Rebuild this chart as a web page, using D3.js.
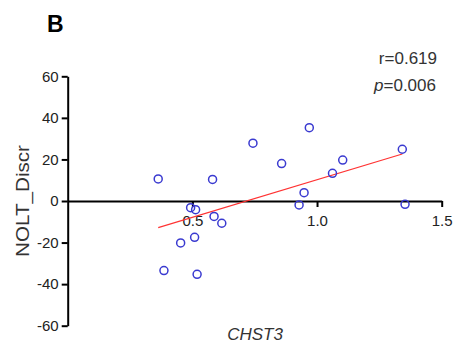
<!DOCTYPE html>
<html>
<head>
<meta charset="utf-8">
<script src="https://cdn.jsdelivr.net/npm/d3@7"></script>
<style>
  body { margin: 0; background: #fff; }
  svg { display: block; font-family: "Liberation Sans", Arial, sans-serif; }
  .axis path, .axis line { stroke: #000; stroke-width: 2; }
  .axis text { font-size: 15px; fill: #222; }
</style>
</head>
<body>
<svg width="454" height="345"></svg>
<script>
// CHST3 expression vs NOLT discrimination
const chst3 = [0.363, 0.386, 0.453, 0.493, 0.513, 0.509, 0.519, 0.581, 0.587, 0.618,
               0.743, 0.858, 0.928, 0.948, 0.969, 1.062, 1.103, 1.342, 1.353];
const noltDiscr = [10.6, -33.5, -20.2, -3.2, -4.2, -17.5, -35.3, 10.4, -7.4, -10.7,
                   27.8, 18.0, -1.9, 4.0, 35.3, 13.3, 19.7, 24.9, -1.6];
// regression line end points
const fitX = [0.363, 1.342];
const fitY = [-12.8, 22.6];
const xTicks = [0.5, 1.0, 1.5];
const yTicks = [-60, -40, -20, 0, 20, 40, 60];

const svg = d3.select('svg');

const x = d3.scaleLinear().domain([0, 1.5]).range([67.7, 441.7]);
const y = d3.scaleLinear().domain([-60, 60]).range([325.7, 76.3]);

// y axis (plain hyphen for minus, like the original)
svg.append('g')
    .attr('class', 'axis axis--y')
    .attr('transform', 'translate(' + x(0) + ',0)')
    .call(d3.axisLeft(y).tickValues(yTicks).tickSize(6).tickSizeOuter(0).tickPadding(3)
        .tickFormat(d => String(d)));

// x axis through zero
svg.append('g')
    .attr('class', 'axis axis--x')
    .attr('transform', 'translate(0,' + y(0) + ')')
    .call(d3.axisBottom(x).tickValues(xTicks).tickSize(6).tickSizeOuter(0).tickPadding(8)
        .tickFormat(d => d.toFixed(1)));

// fit line
svg.append('path')
    .datum(d3.zip(fitX, fitY))
    .attr('d', d3.line().x(d => x(d[0])).y(d => y(d[1])))
    .attr('stroke', '#ff3333')
    .attr('stroke-width', 1.2)
    .attr('fill', 'none');

// points
svg.append('g')
    .selectAll('circle')
    .data(d3.zip(chst3, noltDiscr))
    .enter()
    .append('circle')
    .attr('cx', d => x(d[0]))
    .attr('cy', d => y(d[1]))
    .attr('r', 4)
    .attr('fill', 'none')
    .attr('stroke', '#3a3ad0')
    .attr('stroke-width', 1.5);

// axis titles
svg.append('text')
    .attr('transform', 'translate(29,201) rotate(-90)')
    .attr('text-anchor', 'middle')
    .attr('textLength', 112)
    .attr('lengthAdjust', 'spacingAndGlyphs')
    .style('font-size', '18px')
    .style('fill', '#333')
    .text('NOLT_Discr');

svg.append('text')
    .attr('x', 255)
    .attr('y', 340)
    .attr('text-anchor', 'middle')
    .style('font-size', '17px')
    .style('font-style', 'italic')
    .style('fill', '#333')
    .text('CHST3');

// panel letter
svg.append('text')
    .attr('x', 47)
    .attr('y', 32)
    .style('font-size', '23px')
    .style('font-weight', 'bold')
    .text('B');

// stats
svg.append('text')
    .attr('x', 437)
    .attr('y', 64)
    .attr('text-anchor', 'end')
    .style('font-size', '17px')
    .style('fill', '#333')
    .text('r=0.619');

const pText = svg.append('text')
    .attr('x', 436)
    .attr('y', 91)
    .attr('text-anchor', 'end')
    .style('font-size', '17px')
    .style('fill', '#333');
pText.append('tspan').style('font-style', 'italic').text('p');
pText.append('tspan').text('=0.006');
</script>
</body>
</html>
